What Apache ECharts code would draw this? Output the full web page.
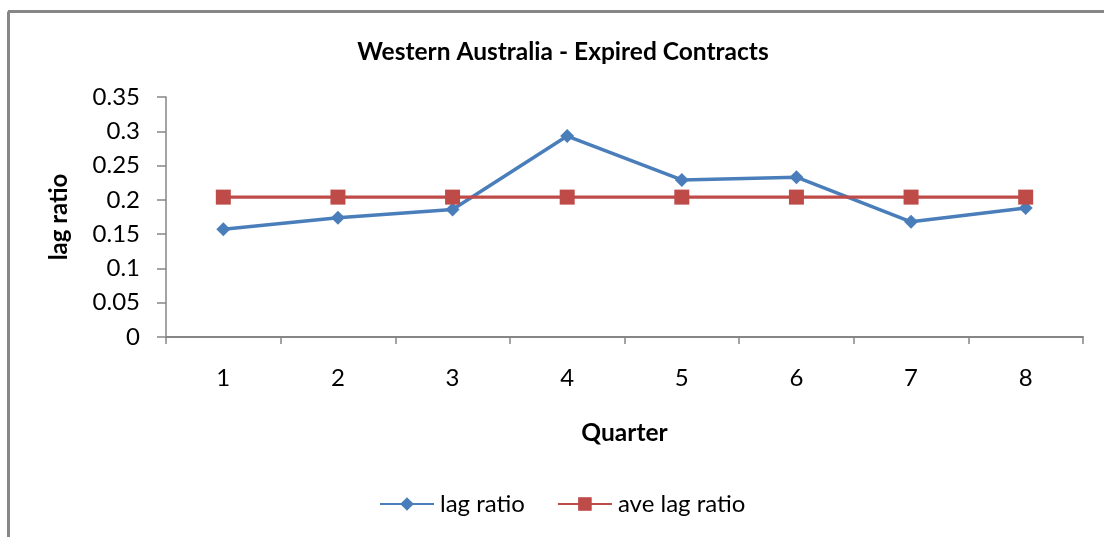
<!DOCTYPE html>
<html>
<head>
<meta charset="utf-8">
<script src="https://cdn.jsdelivr.net/npm/echarts@6/dist/echarts.min.js"></script>
<style>
html,body{margin:0;padding:0;background:#fff;}
#chart{width:1104px;height:537px;}
</style>
</head>
<body>
<div id="chart"></div>
<script>
var categories = ['1','2','3','4','5','6','7','8'];
var lagRatio = [0.157, 0.174, 0.186, 0.293, 0.229, 0.233, 0.168, 0.188];
var aveLagRatio = [0.204, 0.204, 0.204, 0.204, 0.204, 0.204, 0.204, 0.204];
var yTicks = [0, 0.05, 0.1, 0.15, 0.2, 0.25, 0.3, 0.35];

var FONT = 'Lato, "Open Sans", sans-serif';
var chart = echarts.init(document.getElementById('chart'));
chart.setOption({
  animation: false,
  backgroundColor: '#ffffff',
  title: {
    text: 'Western Australia - Expired Contracts',
    left: 558, textAlign: 'center', top: 35,
    textStyle: {fontFamily: FONT, fontSize: 24.5, fontWeight: 'bold', color: '#000'}
  },
  graphic: [
    {type: 'line', shape: {x1: 8, y1: 11.5, x2: 1104, y2: 11.5}, style: {stroke: '#878787', lineWidth: 3}},
    {type: 'line', shape: {x1: 8.5, y1: 11.5, x2: 8.5, y2: 537}, style: {stroke: '#878787', lineWidth: 3}}
  ],
  legend: {
    top: 487, left: 374,
    itemWidth: 54, itemHeight: 17, itemGap: 32,
    textStyle: {fontFamily: FONT, fontSize: 24, color: '#000', padding: [0, 0, 0, 1]},
    data: ['lag ratio', 'ave lag ratio']
  },
  grid: {left: 166, right: 21, top: 97, bottom: 200},
  xAxis: {
    type: 'category', data: categories, boundaryGap: true,
    name: 'Quarter', nameLocation: 'middle', nameGap: 84,
    nameTextStyle: {fontFamily: FONT, fontSize: 24.5, fontWeight: 'bold', color: '#000'},
    axisLine: {lineStyle: {color: '#868686', width: 2}},
    axisTick: {show: true, length: 7, lineStyle: {color: '#868686', width: 1.5}},
    axisLabel: {fontFamily: FONT, fontSize: 24, color: '#000', margin: 29},
    splitLine: {show: false}
  },
  yAxis: {
    type: 'value', min: 0, max: 0.35, interval: 0.05,
    name: 'lag ratio', nameLocation: 'middle', nameGap: 95, nameRotate: 90,
    nameTextStyle: {fontFamily: FONT, fontSize: 24, fontWeight: 'bold', color: '#000'},
    axisLine: {show: true, lineStyle: {color: '#868686', width: 1.5}},
    axisTick: {show: true, length: 9, lineStyle: {color: '#868686', width: 1.5}},
    axisLabel: {fontFamily: FONT, fontSize: 24, color: '#000', margin: 26,
      formatter: function (v) { return String(parseFloat(v.toFixed(2))); }},
    splitLine: {show: false}
  },
  series: [
    {
      name: 'lag ratio', type: 'line', data: lagRatio,
      symbol: 'diamond', symbolSize: 14,
      lineStyle: {color: '#4A7EBB', width: 3.5},
      itemStyle: {color: '#4A7EBB'}
    },
    {
      name: 'ave lag ratio', type: 'line', data: aveLagRatio,
      symbol: 'rect', symbolSize: 15,
      lineStyle: {color: '#BE4B48', width: 3.2},
      itemStyle: {color: '#BE4B48'}
    }
  ]
});
</script>
</body>
</html>
